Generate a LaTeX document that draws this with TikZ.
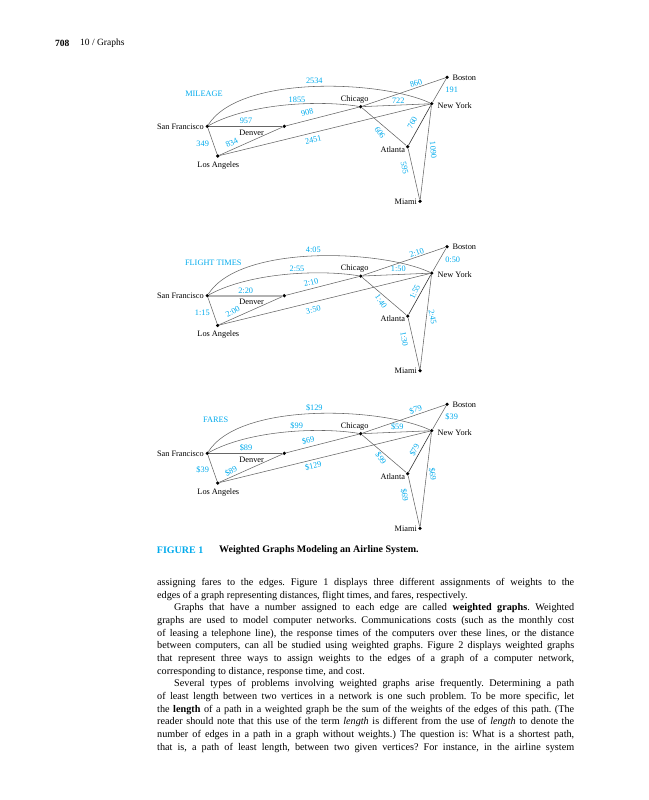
\documentclass[tikz,border=0pt]{standalone}
\usepackage{fontspec}
\setmainfont{Liberation Serif}
\frenchspacing
\definecolor{cy}{RGB}{0,170,236}
\tikzset{
  vdot/.style={circle, fill=black, inner sep=0pt, minimum size=3.6pt},
  wire/.style={draw=black!60, line width=0.55pt},
  darkwire/.style={draw=black!80, line width=0.6pt},
  sfden/.style={wire},
  cname/.style={inner sep=0.5pt, text height=5.5pt, text depth=0pt, font=\fontsize{8.3}{10}\selectfont},
  wt/.style={inner sep=0.5pt, text height=5.5pt, text depth=0pt, text=cy, font=\fontsize{8.3}{10}\selectfont},
}
\newcommand\airgraph[1]{%
  \node[vdot] (#1sf)  at (207.3,126.3) {};
  \node[vdot] (#1den) at (284.3,126.3) {};
  \node[vdot] (#1la)  at (217.7,156) {};
  \node[vdot] (#1chi) at (360.7,106.7) {};
  \node[vdot] (#1ny)  at (431.7,103.7) {};
  \node[vdot] (#1bos) at (447,77.3) {};
  \node[vdot] (#1atl) at (407.7,146.7) {};
  \node[vdot] (#1mia) at (420,201.3) {};
  \draw[wire] (#1sf) .. controls (240,75) and (380,80) .. (#1ny);
  \draw[wire] (#1sf) .. controls (250,103) and (320,100) .. (#1chi);
  \draw[sfden] (#1sf) -- (#1den);
  \draw[wire] (#1sf) -- (#1la);
  \draw[wire] (#1la) -- (#1den);
  \draw[wire] (#1la) -- (#1ny);
  \draw[wire] (#1den) -- (#1chi);
  \draw[wire] (#1chi) -- (#1ny);
  \draw[wire] (#1chi) -- (#1bos);
  \draw[wire] (#1chi) -- (#1atl);
  \draw[wire] (#1ny) -- (#1bos);
  \draw[darkwire] (#1ny) -- (#1atl);
  \draw[wire] (#1ny) -- (#1mia);
  \draw[wire] (#1atl) -- (#1mia);
  \node[cname, anchor=east] (#1sfl) at (204.5,126.3) {San Francisco};
  \node[cname] (#1denl) at (251.7,132.3) {Denver};
  \node[cname] (#1lal)  at (218.3,164.3) {Los Angeles};
  \node[cname] (#1chil) at (354.7,98.3) {Chicago};
  \node[cname] (#1nyl)  at (454.7,105.3) {New York};
  \node[cname] (#1bosl) at (464.3,77.3) {Boston};
  \node[cname] (#1atll) at (392.8,149.3) {Atlanta};
  \node[cname] (#1mial) at (405.8,201.3) {Miami};
}
\begin{document}
\begin{tikzpicture}[x=1pt, y=-1pt]
\useasboundingbox (0,0) rectangle (648,800);
% running head
\node[anchor=west, inner sep=0pt, font=\fontsize{9.5}{11}\selectfont\bfseries] (pgno) at (55,43.7) {708};
\node[anchor=west, inner sep=0pt, font=\fontsize{9.5}{11}\selectfont] (rhead) at (80,43.7) {10 / Graphs};

% ---------- MILEAGE ----------
\begin{scope}
  \airgraph{m}
  \node[wt] (mttl) at (204,93.7) {MILEAGE};
  \node[wt] (mw1) at (314.3,80.5) {2534};
  \node[wt, rotate=19] (mw2) at (416,83.3) {860};
  \node[wt] (mw3) at (451.7,90) {191};
  \node[wt] (mw4) at (297,99.3) {1855};
  \node[wt] (mw5) at (398.3,100.3) {722};
  \node[wt, rotate=14] (mw6) at (307.3,112.2) {908};
  \node[wt] (mw7) at (246,121) {957};
  \node[wt, rotate=-55] (mw8) at (380,132.7) {606};
  \node[wt, rotate=62] (mw9) at (412.3,122.7) {760};
  \node[wt, rotate=-85] (mw10) at (433.3,150) {1090};
  \node[wt] (mw11) at (202.7,143.3) {349};
  \node[wt, rotate=27] (mw12) at (231.7,142.7) {834};
  \node[wt, rotate=13] (mw13) at (313.3,140) {2451};
  \node[wt, rotate=-78] (mw14) at (404.7,168.3) {595};
\end{scope}

% ---------- FLIGHT TIMES ----------
\begin{scope}[shift={(0,169.4)}, sfden/.style={draw=black!30, line width=1.6pt}]
  \airgraph{t}
  \node[wt] (tttl) at (213.3,93.3) {FLIGHT TIMES};
  \node[wt] (tw1) at (313.3,80.8) {4:05};
  \node[wt, rotate=19] (tw2) at (416.7,83.3) {2:10};
  \node[wt] (tw3) at (452.7,89.9) {0:50};
  \node[wt] (tw4) at (297,99.6) {2:55};
  \node[wt] (tw5) at (398.3,99.8) {1:50};
  \node[wt, rotate=14] (tw6) at (311,112.8) {2:10};
  \node[wt] (tw7) at (245.7,121.3) {2:20};
  \node[wt, rotate=-55] (tw8) at (381,131.9) {1:40};
  \node[wt, rotate=65] (tw9) at (414.8,122.6) {1:55};
  \node[wt, rotate=-80] (tw10) at (432.7,147.9) {2:45};
  \node[wt] (tw11) at (202.3,143.3) {1:15};
  \node[wt, rotate=30] (tw12) at (232.7,142.3) {2:00};
  \node[wt, rotate=13] (tw13) at (313.3,140.6) {3:50};
  \node[wt, rotate=-80] (tw14) at (404.3,169.9) {1:30};
\end{scope}

% ---------- FARES ----------
\begin{scope}[shift={(0,327)}]
  \airgraph{f}
  \node[wt] (fttl) at (215.7,92.7) {FARES};
  \node[wt] (fw1) at (314.3,80.5) {\$129};
  \node[wt, rotate=19] (fw2) at (415.7,82.7) {\$79};
  \node[wt] (fw3) at (451.7,89.3) {\$39};
  \node[wt] (fw4) at (296.7,99.2) {\$99};
  \node[wt] (fw5) at (397.3,100) {\$59};
  \node[wt, rotate=14] (fw6) at (308.3,113.5) {\$69};
  \node[wt] (fw7) at (246,120.7) {\$89};
  \node[wt, rotate=-55] (fw8) at (381,131.3) {\$99};
  \node[wt, rotate=62] (fw9) at (414.5,123) {\$79};
  \node[wt, rotate=-82] (fw10) at (432.7,147.3) {\$69};
  \node[wt] (fw11) at (202.7,143) {\$39};
  \node[wt, rotate=28] (fw12) at (231,143.7) {\$89};
  \node[wt, rotate=13] (fw13) at (313.3,138.7) {\$129};
  \node[wt, rotate=-80] (fw14) at (404.7,168) {\$69};
\end{scope}

% caption
\node[anchor=west, inner sep=0pt, text=cy, font=\fontsize{10}{12}\selectfont\bfseries] (figno) at (156.7,550.6) {FIGURE 1};
\node[anchor=west, inner sep=0pt, font=\fontsize{10}{12}\selectfont\bfseries] (figcap) at (219,550.6) {Weighted Graphs Modeling an Airline System.};

% body text
\node[anchor=north west, inner sep=0pt, text width=417pt, align=justify,
      font=\fontsize{10.2}{12.65}\selectfont] (body) at (157,576.6) {%
\parindent=17pt\parskip=0pt
\noindent\strut assigning fares to the edges. Figure 1 displays three different assignments of weights to the\linebreak
edges of a graph representing distances, flight times, and fares, respectively.\par
Graphs that have a number assigned to each edge are called \textbf{weighted graphs}. Weighted\linebreak
graphs are used to model computer networks. Communications costs (such as the monthly cost\linebreak
of leasing a telephone line), the response times of the computers over these lines, or the distance\linebreak
between computers, can all be studied using weighted graphs. Figure 2 displays weighted graphs\linebreak
that represent three ways to assign weights to the edges of a graph of a computer network,\linebreak
corresponding to distance, response time, and cost.\par
Several types of problems involving weighted graphs arise frequently. Determining a path\linebreak
of least length between two vertices in a network is one such problem. To be more specific, let\linebreak
the \textbf{length} of a path in a weighted graph be the sum of the weights of the edges of this path. (The\linebreak
reader should note that this use of the term \textit{length} is different from the use of \textit{length} to denote the\linebreak
number of edges in a path in a graph without weights.) The question is: What is a shortest path,\linebreak
that is, a path of least length, between two given vertices? For instance, in the airline system\parfillskip=0pt\par};
\end{tikzpicture}
\end{document}
